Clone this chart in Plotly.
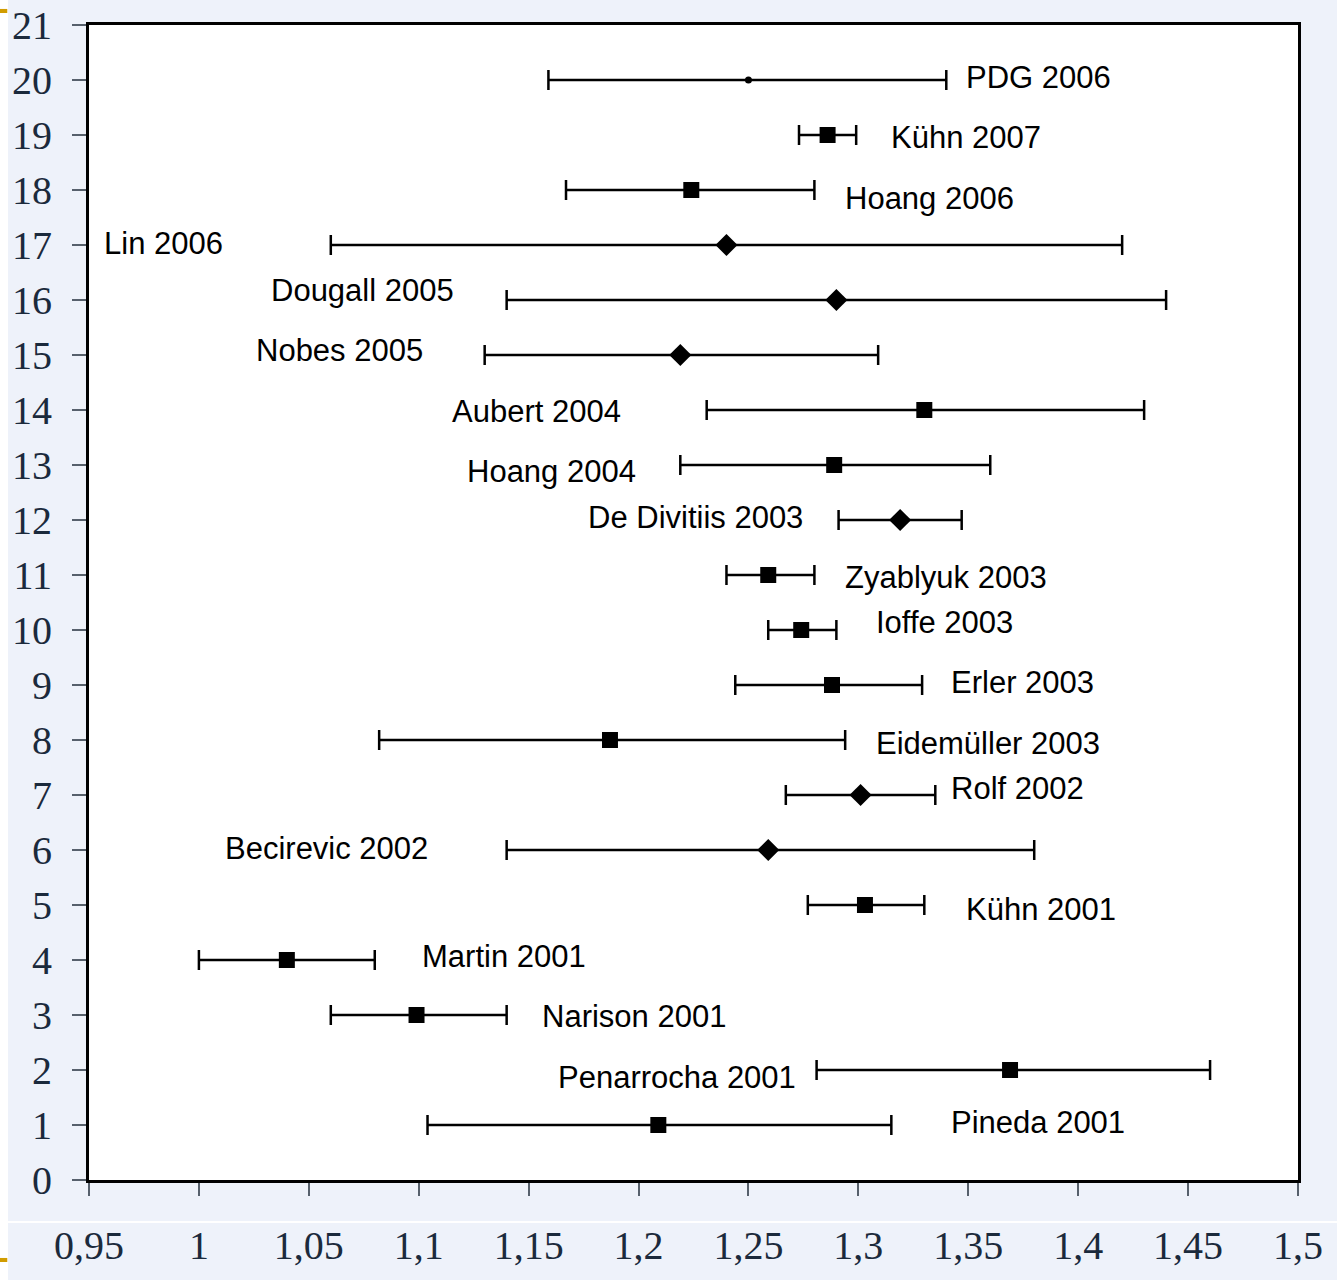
import plotly.graph_objects as go

# Charm quark mass determinations, m_c(m_c) in GeV
labels = [
    "Pineda 2001", "Penarrocha 2001", "Narison 2001", "Martin 2001", "Kühn 2001",
    "Becirevic 2002", "Rolf 2002", "Eidemüller 2003", "Erler 2003", "Ioffe 2003",
    "Zyablyuk 2003", "De Divitiis 2003", "Hoang 2004", "Aubert 2004", "Nobes 2005",
    "Dougall 2005", "Lin 2006", "Hoang 2006", "Kühn 2007", "PDG 2006",
]
row = list(range(1, 21))
central = [1.209, 1.369, 1.099, 1.040, 1.303, 1.259, 1.301, 1.187, 1.288, 1.274,
           1.259, 1.319, 1.289, 1.330, 1.219, 1.290, 1.240, 1.224, 1.286, 1.250]
low = [1.104, 1.281, 1.060, 1.000, 1.277, 1.140, 1.267, 1.082, 1.244, 1.259,
       1.240, 1.291, 1.219, 1.231, 1.130, 1.140, 1.060, 1.167, 1.273, 1.159]
high = [1.315, 1.460, 1.140, 1.080, 1.330, 1.380, 1.335, 1.294, 1.329, 1.290,
        1.280, 1.347, 1.360, 1.430, 1.309, 1.440, 1.420, 1.280, 1.299, 1.340]
kind = ["sq", "sq", "sq", "sq", "sq", "dia", "dia", "sq", "sq", "sq",
        "sq", "dia", "sq", "sq", "dia", "dia", "dia", "sq", "sq", "dot"]

x_ticks = [0.95, 1.0, 1.05, 1.1, 1.15, 1.2, 1.25, 1.3, 1.35, 1.4, 1.45, 1.5]
x_tick_text = ["0,95", "1", "1,05", "1,1", "1,15", "1,2", "1,25", "1,3", "1,35", "1,4", "1,45", "1,5"]
y_ticks = list(range(0, 22))

# label anchor points (data units) for the text beside each bar
label_x = [1.3426, 1.1638, 1.1566, 1.1020, 1.3495, 1.0123, 1.3426, 1.3085, 1.3426, 1.3085,
           1.2944, 1.1775, 1.1224, 1.1156, 1.0264, 1.0333, 0.9573, 1.2944, 1.3153, 1.3495]
label_y = [1.05, 1.87, 2.98, 4.07, 4.91, 6.02, 7.11, 7.93, 9.04, 10.13,
           10.96, 12.05, 12.89, 13.98, 15.09, 16.18, 17.02, 17.84, 18.95, 20.04]

symbol_map = {"sq": "square", "dia": "diamond", "dot": "circle"}
size_map = {"sq": 16, "dia": 17, "dot": 7}

fig = go.Figure()
fig.add_trace(go.Scatter(
    x=central, y=row, mode="markers",
    marker=dict(symbol=[symbol_map[k] for k in kind],
                size=[size_map[k] for k in kind],
                color="black", opacity=1, line=dict(width=0)),
    error_x=dict(type="data", symmetric=False,
                 array=[h - c for h, c in zip(high, central)],
                 arrayminus=[c - l for c, l in zip(central, low)],
                 color="black", thickness=2.5, width=10),
    showlegend=False, hoverinfo="skip",
))

for t, lx, ly in zip(labels, label_x, label_y):
    fig.add_annotation(x=lx, y=ly, text=t, showarrow=False, xanchor="left", yanchor="middle",
                       xshift=-3,
                       font=dict(family="Liberation Sans, Arial, sans-serif", size=31, color="black"))

page_bg = "#EEF2FA"
shapes = [
    # white strip down the left edge
    dict(type="rect", xref="paper", yref="paper", x0=-0.08, x1=-0.0670, y0=-0.10, y1=1.03,
         fillcolor="white", line=dict(width=0), layer="below"),
    # thin white separator above the x labels
    dict(type="line", xref="paper", yref="paper", x0=-0.0670, x1=1.04, y0=-0.0364, y1=-0.0364,
         line=dict(color="white", width=2), layer="below"),
    # gold corner marks
    dict(type="rect", xref="paper", yref="paper", x0=-0.0740, x1=-0.0676, y0=1.0104, y1=1.0139,
         fillcolor="#D19C00", line=dict(width=0)),
    dict(type="rect", xref="paper", yref="paper", x0=-0.0740, x1=-0.0676, y0=-0.0710, y1=-0.0675,
         fillcolor="#D19C00", line=dict(width=0)),
]

tick_font = dict(family="Liberation Serif, Times New Roman, serif", size=40, color="#1B2A3C")

fig.update_layout(
    width=1337, height=1280,
    margin=dict(l=89, r=39, t=25, b=100),
    paper_bgcolor=page_bg, plot_bgcolor="white",
    shapes=shapes,
    xaxis=dict(range=[0.95, 1.5], tickvals=x_ticks, ticktext=x_tick_text,
               showgrid=False, zeroline=False, automargin=False,
               showline=True, mirror=True, linecolor="black", linewidth=3,
               ticks="outside", ticklen=13, tickcolor="#56606C", tickwidth=1.5,
               tickfont=tick_font, ticklabelstandoff=15),
    yaxis=dict(range=[0, 21], tickvals=y_ticks,
               showgrid=False, zeroline=False, automargin=False,
               showline=True, mirror=True, linecolor="black", linewidth=3,
               ticks="outside", ticklen=14, tickcolor="#56606C", tickwidth=1.5,
               tickfont=tick_font, ticklabelstandoff=12),
)

fig.write_html("out.html")
